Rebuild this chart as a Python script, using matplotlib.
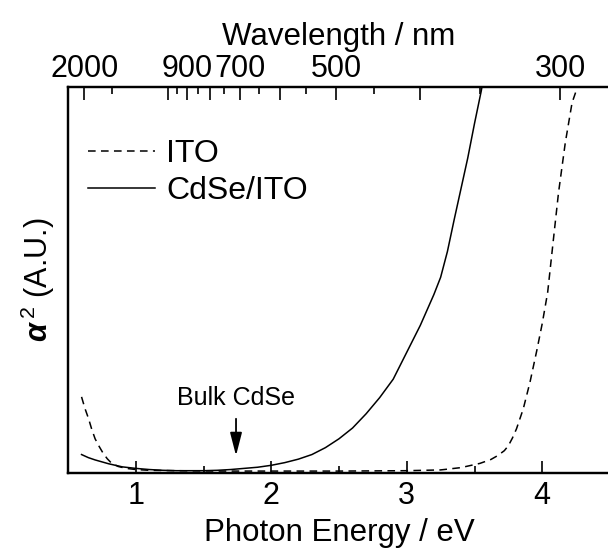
import matplotlib

matplotlib.use("Agg")
import matplotlib.pyplot as plt

plt.rcParams["font.family"] = ["Liberation Sans", "DejaVu Sans"]
plt.rcParams["mathtext.fontset"] = "custom"
plt.rcParams["mathtext.rm"] = "Liberation Sans"
plt.rcParams["mathtext.it"] = "Liberation Sans:italic:bold"

# photon energy (eV) vs alpha^2 (arb. units)
cdse_E = [0.6, 0.65, 0.7, 0.75, 0.8, 0.85, 0.9, 0.95, 1.0, 1.1, 1.2, 1.3, 1.4,
          1.5, 1.6, 1.7, 1.8, 1.9, 2.0, 2.1, 2.2, 2.3, 2.4, 2.5, 2.6, 2.7, 2.8,
          2.9, 3.0, 3.1, 3.2, 3.25, 3.3, 3.35, 3.4, 3.45, 3.5, 3.55, 3.56]
cdse_a2 = [0.044, 0.036, 0.030, 0.025, 0.020, 0.016, 0.012, 0.010, 0.008, 0.005,
           0.003, 0.002, 0.002, 0.002, 0.003, 0.005, 0.008, 0.011, 0.016, 0.023,
           0.032, 0.044, 0.062, 0.085, 0.113, 0.150, 0.192, 0.240, 0.310, 0.380,
           0.460, 0.505, 0.572, 0.655, 0.735, 0.815, 0.905, 0.990, 1.01]

ito_E = [0.6, 0.625, 0.652, 0.675, 0.70, 0.73, 0.76, 0.79, 0.82, 0.87, 0.93, 1.0,
         1.1, 1.3, 1.6, 2.0, 2.5, 3.0, 3.25, 3.4, 3.54, 3.62, 3.67, 3.72, 3.75,
         3.78, 3.81, 3.86, 3.91, 3.96, 4.0, 4.04, 4.08, 4.12, 4.17, 4.22, 4.26]
ito_a2 = [0.194, 0.164, 0.137, 0.110, 0.085, 0.065, 0.047, 0.033, 0.022, 0.013,
          0.008, 0.005, 0.003, 0.002, 0.001, 0.001, 0.001, 0.002, 0.004, 0.010,
          0.021, 0.031, 0.041, 0.054, 0.067, 0.087, 0.111, 0.163, 0.233, 0.315,
          0.385, 0.466, 0.596, 0.725, 0.855, 0.959, 1.0]

# top axis: wavelength ticks (nm)
wl_major = [2000, 1000, 900, 800, 700, 600, 500, 400, 300]
wl_minor = [1500, 950, 850, 750, 650, 550, 450, 350]
wl_labeled = [2000, 900, 700, 500, 300]

bulk_gap = 1.74
HC = 1239.84

fig = plt.figure(figsize=(6.08, 5.52), dpi=100)
ax = fig.add_axes([68 / 608, 79 / 552, 542 / 608, 386 / 552])

ax.plot(ito_E, ito_a2, color="k", lw=1.1, ls=(0, (5, 3.5)), label="ITO")
ax.plot(cdse_E, cdse_a2, color="k", lw=1.1, label="CdSe/ITO")

ax.set_xlim(0.5, 4.5)
ax.set_ylim(-0.004, 1.0)
ax.set_xticks([1, 2, 3, 4])
ax.set_xticks([1.5, 2.5, 3.5], minor=True)
ax.set_yticks([])
ax.tick_params(axis="x", which="major", direction="in", length=9, width=1.2,
               labelsize=22, pad=6)
ax.tick_params(axis="x", which="minor", direction="in", length=5, width=1.2)
for s in ax.spines.values():
    s.set_linewidth(1.6)
ax.spines["right"].set_visible(False)

ax.set_xlabel("Photon Energy / eV", fontsize=22.5, labelpad=5)
ax.set_ylabel(r"$\it{\alpha}^{\,2}$ (A.U.)", fontsize=22, labelpad=8)

top = ax.twiny()
top.set_xlim(ax.get_xlim())
top.set_xticks([HC / w for w in wl_major])
top.set_xticklabels([str(w) if w in wl_labeled else "" for w in wl_major])
top.set_xticks([HC / w for w in wl_minor], minor=True)
top.tick_params(axis="x", which="major", direction="in", length=9, width=1.2,
                labelsize=22, pad=2)
top.tick_params(axis="x", which="minor", direction="in", length=5, width=1.2)
top.spines["right"].set_visible(False)
for s in top.spines.values():
    s.set_linewidth(1.6)
top.set_xlabel("Wavelength / nm", fontsize=22.5, labelpad=7)

# bulk band gap marker
ax.text(bulk_gap, 0.19, "Bulk CdSe", ha="center", va="center", fontsize=18)
ax.annotate("", xy=(bulk_gap, 0.041), xytext=(bulk_gap, 0.137),
            arrowprops=dict(arrowstyle="-|>,head_length=0.7,head_width=0.18",
                            color="k", lw=1.3, mutation_scale=20,
                            shrinkA=0, shrinkB=0))

ax.legend(loc="upper left", bbox_to_anchor=(0.037, 0.866), frameon=False,
          fontsize=23, handlelength=2.1, handletextpad=0.35,
          labelspacing=0.22, borderpad=0, borderaxespad=0)

fig.savefig("out.png", dpi=100)
